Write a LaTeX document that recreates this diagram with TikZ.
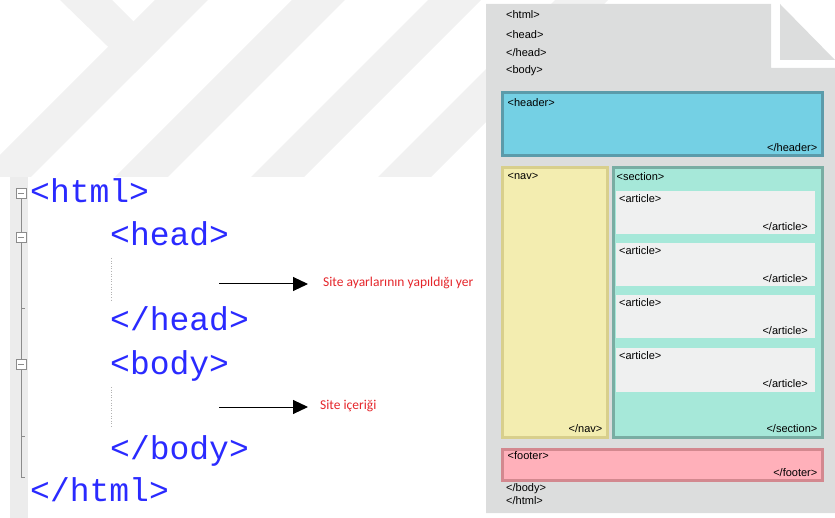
\documentclass[tikz,border=0pt]{standalone}
\usepackage{fontspec}
\setmainfont{Liberation Sans}
\newfontfamily\codefont{Liberation Mono}
\newfontfamily\notefont{Carlito}
\usetikzlibrary{arrows.meta}

\definecolor{stripegray}{HTML}{F1F1F1}
\definecolor{guttergray}{HTML}{ECECEC}
\definecolor{foldgray}{HTML}{8C8C8C}
\definecolor{codeblue}{HTML}{2A2AFF}
\definecolor{notered}{HTML}{E5262B}
\definecolor{pagegray}{HTML}{DCDDDD}
\definecolor{headerfill}{HTML}{74D0E4}
\definecolor{headerline}{HTML}{5B9BAA}
\definecolor{navfill}{HTML}{F3EDB0}
\definecolor{navline}{HTML}{D8CF8C}
\definecolor{sectionfill}{HTML}{A6E8D9}
\definecolor{sectionline}{HTML}{79ADA3}
\definecolor{articlefill}{HTML}{EFF0F0}
\definecolor{footerfill}{HTML}{FFB0BA}
\definecolor{footerline}{HTML}{D3888F}

\tikzset{
  code/.style={font=\codefont\fontsize{33}{33}\selectfont, text=codeblue, inner sep=0pt, anchor=base west},
  note/.style={font=\notefont\fontsize{13.5}{13.5}\selectfont, text=notered, inner sep=0pt, anchor=west},
  pointer/.style={draw=black, line width=1pt, -{Triangle[length=15pt,width=14pt]}},
  foldbox/.style={draw=foldgray, fill=white, minimum size=10.5pt, inner sep=0pt,
    path picture={\draw[foldgray] ([xshift=2pt]path picture bounding box.west) -- ([xshift=-2pt]path picture bounding box.east);}},
  foldline/.style={draw=foldgray, line width=0.8pt},
  guide/.style={draw=gray!60, dotted, line width=0.6pt},
  tag/.style={font=\fontsize{11}{11}\selectfont, inner sep=0pt, anchor=west},
  box/.style={anchor=north west, inner sep=0pt, line width=3pt}
}

\begin{document}
\begin{tikzpicture}[x=1pt,y=-1pt]
  \useasboundingbox (0,0) rectangle (835,518);

  % Background stripes
  \begin{scope}
    \clip (0,0) rectangle (835,518);
    \fill[stripegray] (60,0) -- (112,0) -- (160,48) -- (135,73) -- cycle;
    \foreach \a in {155,292,428,555} {
      \fill[stripegray] (\a,0) -- (\a+53,0) -- (\a-465,518) -- (\a-518,518) -- cycle;
    }
  \end{scope}

  % Code panel
  \fill[white] (0,177) rectangle (480,518);
  \fill[guttergray] (10,177) rectangle (28,518);

  \node[foldbox] (fold1) at (21,193) {};
  \node[foldbox] (fold2) at (21,237) {};
  \node[foldbox] (fold3) at (21,364) {};
  \coordinate (tick1) at (21,308);
  \coordinate (tick2) at (21,436);
  \coordinate (foldend) at (21,477);
  \draw[foldline] (fold1) -- (fold2);
  \draw[foldline] (fold2) -- (fold3);
  \draw[foldline] (fold3.south) -- (foldend) -- ++(4,0);
  \draw[foldline] (tick1) -- ++(4,0);
  \draw[foldline] (tick2) -- ++(4,0);

  \begin{scope}[every node/.style={code}]
    \node (html-open) at (30,203) {<html>};
    \node (head-open) at (110,246) {<head>};
    \node (head-close) at (110,331) {</head>};
    \node (body-open) at (110,374) {<body>};
    \node (body-close) at (110,459) {</body>};
    \node (html-close) at (30,501) {</html>};
  \end{scope}

  \draw[guide] (111,258) -- (111,300);
  \draw[guide] (111,387) -- (111,428);

  % Notes
  \coordinate (from-head) at (219,284);
  \coordinate (from-body) at (219,407);
  \node[note] (note-head) at (323,283) {Site ayarlarının yapıldığı yer};
  \node[note] (note-body) at (320,406) {Site içeriği};
  \draw[pointer, shorten >=15pt] (from-head) -- (note-head.west |- from-head);
  \draw[pointer, shorten >=12pt] (from-body) -- (note-body.west |- from-body);

  % Page
  \fill[pagegray] (486,4) -- (771,4) -- (771,68) -- (835,68) -- (835,513) -- (486,513) -- cycle;
  \fill[pagegray] (780,4) -- (835,60) -- (780,60) -- cycle;

  \node[tag] (p-html) at (506,15) {<html>};
  \node[tag] (p-head) at (506,35) {<head>};
  \node[tag] (p-headend) at (506,53) {</head>};
  \node[tag] (p-body) at (506,71) {<body>};

  % Boxes
  \node[box, fill=headerfill, draw=headerline, minimum width=320pt, minimum height=63pt] (header) at (500.5,91.5) {};
  \node[box, fill=navfill, draw=navline, minimum width=105pt, minimum height=269pt] (nav) at (500.5,166.5) {};
  \node[box, fill=sectionfill, draw=sectionline, minimum width=209pt, minimum height=269pt] (section) at (611.5,166.5) {};
  \node[box, fill=footerfill, draw=footerline, minimum width=320pt, minimum height=31pt] (footer) at (500.5,447.5) {};

  \node[tag] (header-open) at ([shift={(7,11)}]header.north west) {<header>};
  \node[tag, anchor=east] (header-close) at ([shift={(-6,-10)}]header.south east) {</header>};
  \node[tag] (nav-open) at ([shift={(7,10)}]nav.north west) {<nav>};
  \node[tag, anchor=east] (nav-close) at ([shift={(-6,-10)}]nav.south east) {</nav>};
  \node[tag] (section-open) at ([shift={(5,10)}]section.north west) {<section>};
  \node[tag, anchor=east] (section-close) at ([shift={(-6,-10)}]section.south east) {</section>};

  \foreach \i/\y in {1/191,2/243,3/295,4/348} {
    \node[box, fill=articlefill, line width=0pt, minimum width=199pt, minimum height=43.5pt] (art\i) at (616,\y) {};
    \node[tag] (art\i-open) at ([shift={(3,8)}]art\i.north west) {<article>};
    \node[tag, anchor=east] (art\i-close) at ([shift={(-7,-8)}]art\i.south east) {</article>};
  }

  \node[tag] (footer-open) at ([shift={(7,8)}]footer.north west) {<footer>};
  \node[tag, anchor=east] (footer-close) at ([shift={(-6,-9)}]footer.south east) {</footer>};

  \node[tag] (p-bodyend) at (506,489) {</body>};
  \node[tag] (p-htmlend) at (506,500.5) {</html>};

\end{tikzpicture}
\end{document}
